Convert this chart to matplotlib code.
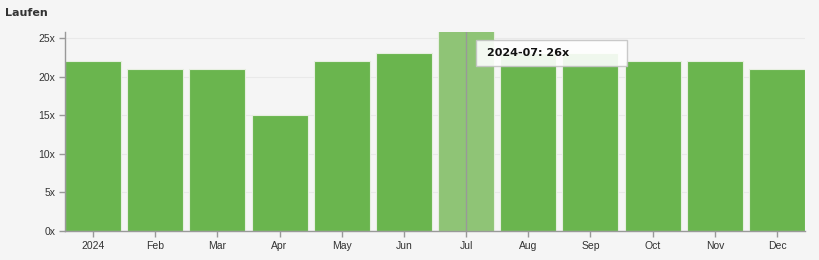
import matplotlib
matplotlib.use("Agg")
import matplotlib.pyplot as plt
from matplotlib.patches import Rectangle

months = ["2024", "Feb", "Mar", "Apr", "May", "Jun", "Jul", "Aug", "Sep", "Oct", "Nov", "Dec"]
counts = [22, 21, 21, 15, 22, 23, 26, 23, 23, 22, 22, 21]
yticks = [0, 5, 10, 15, 20, 25]
ytick_labels = ["0x", "5x", "10x", "15x", "20x", "25x"]
title = "Laufen"
hover_index = 6
tooltip_text = "2024-07: 26x"

bg = "#f5f5f5"
green = "#6ab54e"
green_hover = "#8fc476"

W, H = 820, 260
fig = plt.figure(figsize=(8.2, 2.6), dpi=100, facecolor=bg)
ax = fig.add_axes([65/W, 1 - 231/H, 740/W, 199/H])
ax.set_facecolor(bg)

x = list(range(len(months)))
colors = [green_hover if i == hover_index else green for i in x]
ax.bar(x, counts, width=0.9, color=colors, edgecolor="#e6efe0", linewidth=0.8, zorder=2)

ax.set_xlim(-0.45, len(months) - 0.55)
ax.set_ylim(0, 25 * 199 / 193)
ax.set_yticks(yticks)
ax.set_yticklabels(ytick_labels)
ax.set_xticks(x)
ax.set_xticklabels(months)

for yv in yticks[1:]:
    ax.axhline(yv, color="#e9e9e9", linewidth=0.8, zorder=1)

for s in ["top", "right"]:
    ax.spines[s].set_visible(False)
for s in ["left", "bottom"]:
    ax.spines[s].set_color("#999999")
    ax.spines[s].set_linewidth(1)

ax.tick_params(axis="both", colors="#999999", length=4, width=1, labelsize=7.5,
               labelcolor="#333333", pad=3, labelfontfamily="Liberation Sans")

# hover cursor line
ax.axvline(hover_index, color="#999999", linewidth=1, zorder=3)

# tooltip
fig.patches.append(Rectangle((476/W, 1 - 66/H), 151/W, 26/H, transform=fig.transFigure,
                             facecolor="white", edgecolor="#c4c4c4", linewidth=1,
                             alpha=0.9, zorder=9))
fig.text(487/W, 1 - 53/H, tooltip_text, fontsize=8, fontweight="bold",
         family="DejaVu Sans", color="#111111", va="center", ha="left", zorder=10)

fig.text(5/W, 1 - 13/H, title, fontsize=8, fontweight="bold",
         family="DejaVu Sans", color="#333333", va="center", ha="left")

fig.savefig("out.png", dpi=100, facecolor=bg)
